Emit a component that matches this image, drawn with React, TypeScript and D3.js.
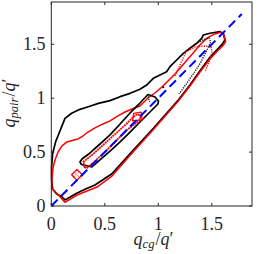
import * as d3 from "d3";

type Pt = [number, number];

const xTicks = [0, 0.5, 1, 1.5];
const yTicks = [0, 0.5, 1, 1.5];
const tickLabels = ["0", "0.5", "1", "1.5"];

// outer contour, black
const blackOuter: Pt[] = [
  [0.128, 0.056], [0.237, 0.118], [0.315, 0.155], [0.408, 0.195], [0.564, 0.297],
  [0.767, 0.519], [0.954, 0.72], [1.187, 0.983], [1.296, 1.122], [1.39, 1.255],
  [1.483, 1.379], [1.546, 1.447], [1.592, 1.494], [1.623, 1.54], [1.608, 1.602],
  [1.577, 1.617], [1.483, 1.602], [1.421, 1.586], [1.405, 1.555], [1.359, 1.509],
  [1.296, 1.463], [1.234, 1.416], [1.172, 1.354], [1.109, 1.292], [1.078, 1.246],
  [1.016, 1.215], [0.954, 1.184], [0.891, 1.122], [0.829, 1.082], [0.736, 1.045],
  [0.643, 1.014], [0.549, 0.977], [0.44, 0.952], [0.346, 0.921], [0.253, 0.891],
  [0.19, 0.86], [0.128, 0.813], [0.097, 0.736], [0.066, 0.659], [0.041, 0.597],
  [0.013, 0.489], [0.003, 0.365], [0.003, 0.241], [0.013, 0.155], [0.05, 0.111],
  [0.097, 0.087],
];

// outer contour, red
const redOuter: Pt[] = [
  [0.128, 0.034], [0.24, 0.102], [0.334, 0.139], [0.427, 0.176], [0.567, 0.278],
  [0.764, 0.501], [0.95, 0.705], [1.184, 0.969], [1.296, 1.113], [1.39, 1.243],
  [1.483, 1.364], [1.549, 1.433], [1.602, 1.484], [1.63, 1.524], [1.614, 1.586],
  [1.583, 1.611], [1.53, 1.596], [1.474, 1.568], [1.427, 1.531], [1.38, 1.484],
  [1.334, 1.429], [1.277, 1.364], [1.221, 1.299], [1.156, 1.224], [1.091, 1.159],
  [1.034, 1.104], [0.969, 1.048], [0.904, 1.002], [0.829, 0.928], [0.754, 0.9],
  [0.689, 0.872], [0.623, 0.835], [0.549, 0.789], [0.483, 0.761], [0.408, 0.724],
  [0.343, 0.686], [0.296, 0.649], [0.25, 0.622], [0.193, 0.608], [0.147, 0.594],
  [0.1, 0.557], [0.063, 0.501], [0.035, 0.427], [0.016, 0.353], [0.007, 0.26],
  [0.004, 0.167],
];

// inner contour, black
const blackInner: Pt[] = [
  [0.268, 0.408], [0.282, 0.385], [0.38, 0.362], [0.455, 0.427], [0.549, 0.51],
  [0.643, 0.594], [0.736, 0.686], [0.829, 0.779], [0.922, 0.872], [0.997, 0.946],
  [1.002, 0.974], [0.969, 1.011], [0.904, 1.034], [0.829, 0.955], [0.736, 0.863],
  [0.643, 0.761], [0.549, 0.659], [0.455, 0.575], [0.362, 0.492], [0.287, 0.436],
];

// inner contour, red
const redInner: Pt[] = [
  [0.31, 0.36], [0.3, 0.41], [0.4, 0.49], [0.5, 0.58], [0.6, 0.67], [0.7, 0.76],
  [0.76, 0.82], [0.8, 0.85], [0.84, 0.84], [0.82, 0.79], [0.7, 0.7], [0.6, 0.6],
  [0.5, 0.5], [0.4, 0.41], [0.33, 0.35],
];

const redBoxLow: Pt[] = [[0.19, 0.29], [0.24, 0.34], [0.29, 0.29], [0.24, 0.24]];
const redBoxHigh: Pt[] = [[0.76, 0.79], [0.77, 0.86], [0.84, 0.87], [0.85, 0.8]];
const redCrossA: Pt[] = [[0.205, 0.265], [0.265, 0.325]];
const redCrossB: Pt[] = [[0.215, 0.315], [0.275, 0.255]];

// dotted contours near the top
const blackDotTop: Pt[] = [
  [1.352, 1.503], [1.427, 1.545], [1.474, 1.56], [1.49, 1.52], [1.455, 1.447],
  [1.399, 1.336], [1.334, 1.234], [1.268, 1.141], [1.194, 1.039],
];
const redDotTop: Pt[] = [
  [1.156, 1.206], [1.259, 1.429], [1.343, 1.475], [1.436, 1.484], [1.493, 1.475],
  [1.502, 1.429], [1.474, 1.336], [1.436, 1.243],
];
const blackDotInner: Pt[] = [[0.907, 1.014], [0.922, 0.953]];
const blackSpot: Pt = [1.047, 1.101];

const diagonal: Pt[] = [[0, 0], [1.78, 1.78]];

const W = 257;
const H = 254;
const m = { left: 51.3, right: 5, top: 2, bottom: 48 };

export default function App() {
  const x = d3.scaleLinear().domain([0, 1.876]).range([m.left, W - m.right]);
  const y = d3.scaleLinear().domain([0, 1.892]).range([H - m.bottom, m.top]);
  const line = d3.line<Pt>().x((d) => x(d[0])).y((d) => y(d[1]));
  const closed = d3
    .line<Pt>()
    .x((d) => x(d[0]))
    .y((d) => y(d[1]))
    .curve(d3.curveLinearClosed);

  const x0 = m.left;
  const x1 = W - m.right;
  const y0 = H - m.bottom;
  const y1 = m.top;
  const font = "'Liberation Serif', 'Times New Roman', serif";
  const ink = "#262626";

  return (
    <svg
      width={W}
      height={H}
      style={{ position: "absolute", left: 0, top: 0, background: "#fff" }}
      fontFamily={font}
    >
      <rect x={0} y={0} width={W} height={H} fill="#fff" />
      <g fill="none" strokeLinejoin="round">
        <path d={closed(blackOuter)!} stroke="#000" strokeWidth={1.7} />
        <path d={closed(redOuter)!} stroke="#f00" strokeWidth={1.5} />
        <path d={closed(blackInner)!} stroke="#000" strokeWidth={1.7} />
        <path d={closed(redInner)!} stroke="#f00" strokeWidth={1.8} strokeDasharray="2,0.6" />
        <path d={closed(redBoxLow)!} stroke="#f00" strokeWidth={1.3} />
        <path d={line(redCrossA)!} stroke="#f00" strokeWidth={1} strokeDasharray="1,1" />
        <path d={line(redCrossB)!} stroke="#f00" strokeWidth={1} strokeDasharray="1,1" />
        <path d={closed(redBoxHigh)!} stroke="#f00" strokeWidth={1.3} />
        <path d={line(redDotTop)!} stroke="#f00" strokeWidth={1.3} strokeDasharray="1.2,1.2" />
        <path d={line(blackDotTop)!} stroke="#000" strokeWidth={1.3} strokeDasharray="1.2,1.2" />
        <path d={line(blackDotInner)!} stroke="#000" strokeWidth={1.2} strokeDasharray="1,1.2" />
      </g>
      <circle cx={x(blackSpot[0])} cy={y(blackSpot[1])} r={1} fill="#000" />
      <path
        d={line(diagonal)!}
        fill="none"
        stroke="#0000ff"
        strokeWidth={2}
        strokeDasharray="9,5"
      />

      {/* axes box */}
      <rect x={x0} y={y1} width={x1 - x0} height={y0 - y1} fill="none" stroke={ink} strokeWidth={1} />
      {xTicks.map((t, i) => (
        <g key={"x" + i}>
          <line x1={x(t)} x2={x(t)} y1={y0} y2={y0 - 3} stroke={ink} />
          <line x1={x(t)} x2={x(t)} y1={y1} y2={y1 + 3} stroke={ink} />
          <text x={x(t)} y={229.5} fontSize={18} textAnchor="middle" fill={ink}>
            {tickLabels[i]}
          </text>
        </g>
      ))}
      {yTicks.map((t, i) => (
        <g key={"y" + i}>
          <line x1={x0} x2={x0 + 3} y1={y(t)} y2={y(t)} stroke={ink} />
          <line x1={x1} x2={x1 - 3} y1={y(t)} y2={y(t)} stroke={ink} />
          <text x={45.5} y={y(t) + 6} fontSize={18} textAnchor="end" fill={ink}>
            {tickLabels[i]}
          </text>
        </g>
      ))}

      <text x={153.5} y={245} fontSize={18} textAnchor="middle" fill={ink}>
        <tspan fontStyle="italic">q</tspan>
        <tspan fontStyle="italic" fontSize={12.6} dy={3}>cg</tspan>
        <tspan dy={-3} dx={1}>/</tspan>
        <tspan fontStyle="italic">q</tspan>
        <tspan>′</tspan>
      </text>
      <text
        transform={`translate(15,103) rotate(-90)`}
        fontSize={18}
        textAnchor="middle"
        fill={ink}
      >
        <tspan fontStyle="italic">q</tspan>
        <tspan fontStyle="italic" fontSize={12.6} dy={3}>pair</tspan>
        <tspan dy={-3} dx={1}>/</tspan>
        <tspan fontStyle="italic">q</tspan>
        <tspan>′</tspan>
      </text>
    </svg>
  );
}
